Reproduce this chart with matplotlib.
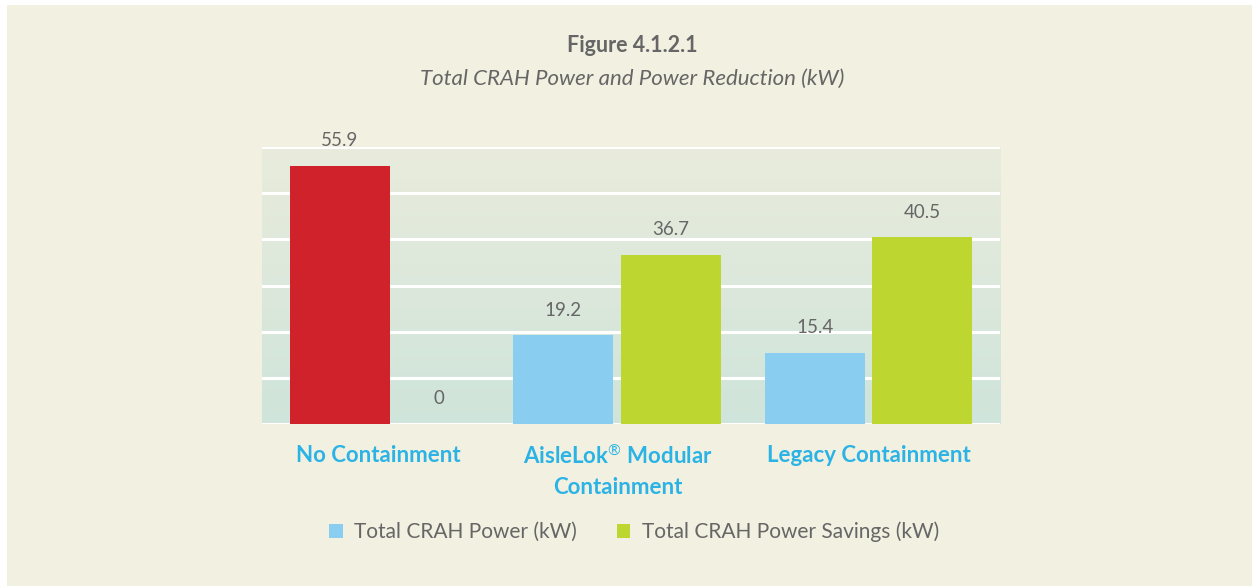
import numpy as np
import matplotlib as mpl
import matplotlib.pyplot as plt
from matplotlib.patches import Patch, Rectangle
from matplotlib.colors import LinearSegmentedColormap

mpl.rcParams['font.family'] = ['Lato', 'DejaVu Sans']
mpl.rcParams['mathtext.fontset'] = 'custom'
mpl.rcParams['mathtext.rm'] = 'Lato'
mpl.rcParams['mathtext.bf'] = 'Lato:bold'

# data
categories = ['No Containment', 'AisleLok$^{\\circledR}$ Modular\nContainment', 'Legacy Containment']
power = [55.9, 19.2, 15.4]        # total CRAH power (kW), first one is the red baseline
savings = [0.0, 36.7, 40.5]       # total CRAH power savings (kW)
series_names = ['Total CRAH Power (kW)', 'Total CRAH Power Savings (kW)']

# layout (x in units of 100 px of the plot area)
x_power = [0.78, 3.01, 5.53]
x_savings = [1.77, 4.09, 6.60]
x_ticks = [1.165, 3.56, 6.065]
BW = 1.0

CREAM = '#F2F0E0'
RED, BLUE, GREEN = '#D0222B', '#89CDF0', '#BDD630'
GREY = '#666666'
CATBLUE = '#2BB3E6'

fig = plt.figure(figsize=(12.52, 5.86), dpi=100, facecolor='white')
fig.patches.append(Rectangle((7/1252, 0), 1, 1 - 5/586, transform=fig.transFigure,
                             facecolor=CREAM, edgecolor='none', zorder=-10))

ax = fig.add_axes([262/1252, 162/586, 738/1252, 277/586])
ax.set_xlim(0, 7.38)
ax.set_ylim(0, 60)
ax.patch.set_alpha(0)

# vertical gradient background of the plot area
cmap = LinearSegmentedColormap.from_list('bg', ['#CFE4DA', '#E9ECDC'])
ax.imshow(np.linspace(0, 1, 256).reshape(-1, 1), cmap=cmap, origin='lower',
          extent=[0, 7.38, 0, 60], aspect='auto', zorder=0)
for v in range(0, 61, 10):
    ax.axhline(v, color='white', linewidth=2.2, zorder=1)

bar_colors = [RED, BLUE, BLUE]
ax.bar(x_power, power, width=BW, color=bar_colors, zorder=2)
ax.bar(x_savings, savings, width=BW, color=GREEN, zorder=2)

for xs, vals in ((x_power, power), (x_savings, savings)):
    for x, v in zip(xs, vals):
        lab = '0' if v == 0 else f'{v:.1f}'
        ax.annotate(lab, (x, v), xytext=(0, 18), textcoords='offset points',
                    ha='center', va='center', fontsize=13.5, color=GREY, zorder=3)

ax.set_xticks(x_ticks)
ax.set_xticklabels(categories, fontsize=16, fontweight='bold', color=CATBLUE,
                   linespacing=1.5, va='top')
ax.tick_params(axis='x', length=0, pad=15)
ax.set_yticks([])
for s in ax.spines.values():
    s.set_visible(False)

fig.text(632/1252, 1 - 46/586, 'Figure 4.1.2.1', ha='center', va='center',
         fontsize=15.5, fontweight='bold', color=GREY)
fig.text(632/1252, 1 - 79/586, 'Total CRAH Power and Power Reduction (kW)',
         ha='center', va='center', fontsize=16, fontstyle='italic', color=GREY)

handles = [Patch(facecolor=BLUE, edgecolor='none'), Patch(facecolor=GREEN, edgecolor='none')]
fig.legend(handles, series_names, loc='center', bbox_to_anchor=(634/1252, 1 - 532/586),
           ncol=2, frameon=False, fontsize=15, labelcolor=GREY,
           handlelength=0.65, handleheight=0.65, handletextpad=0.55, columnspacing=1.9)

fig.savefig('out.png', dpi=100, facecolor=fig.get_facecolor())
